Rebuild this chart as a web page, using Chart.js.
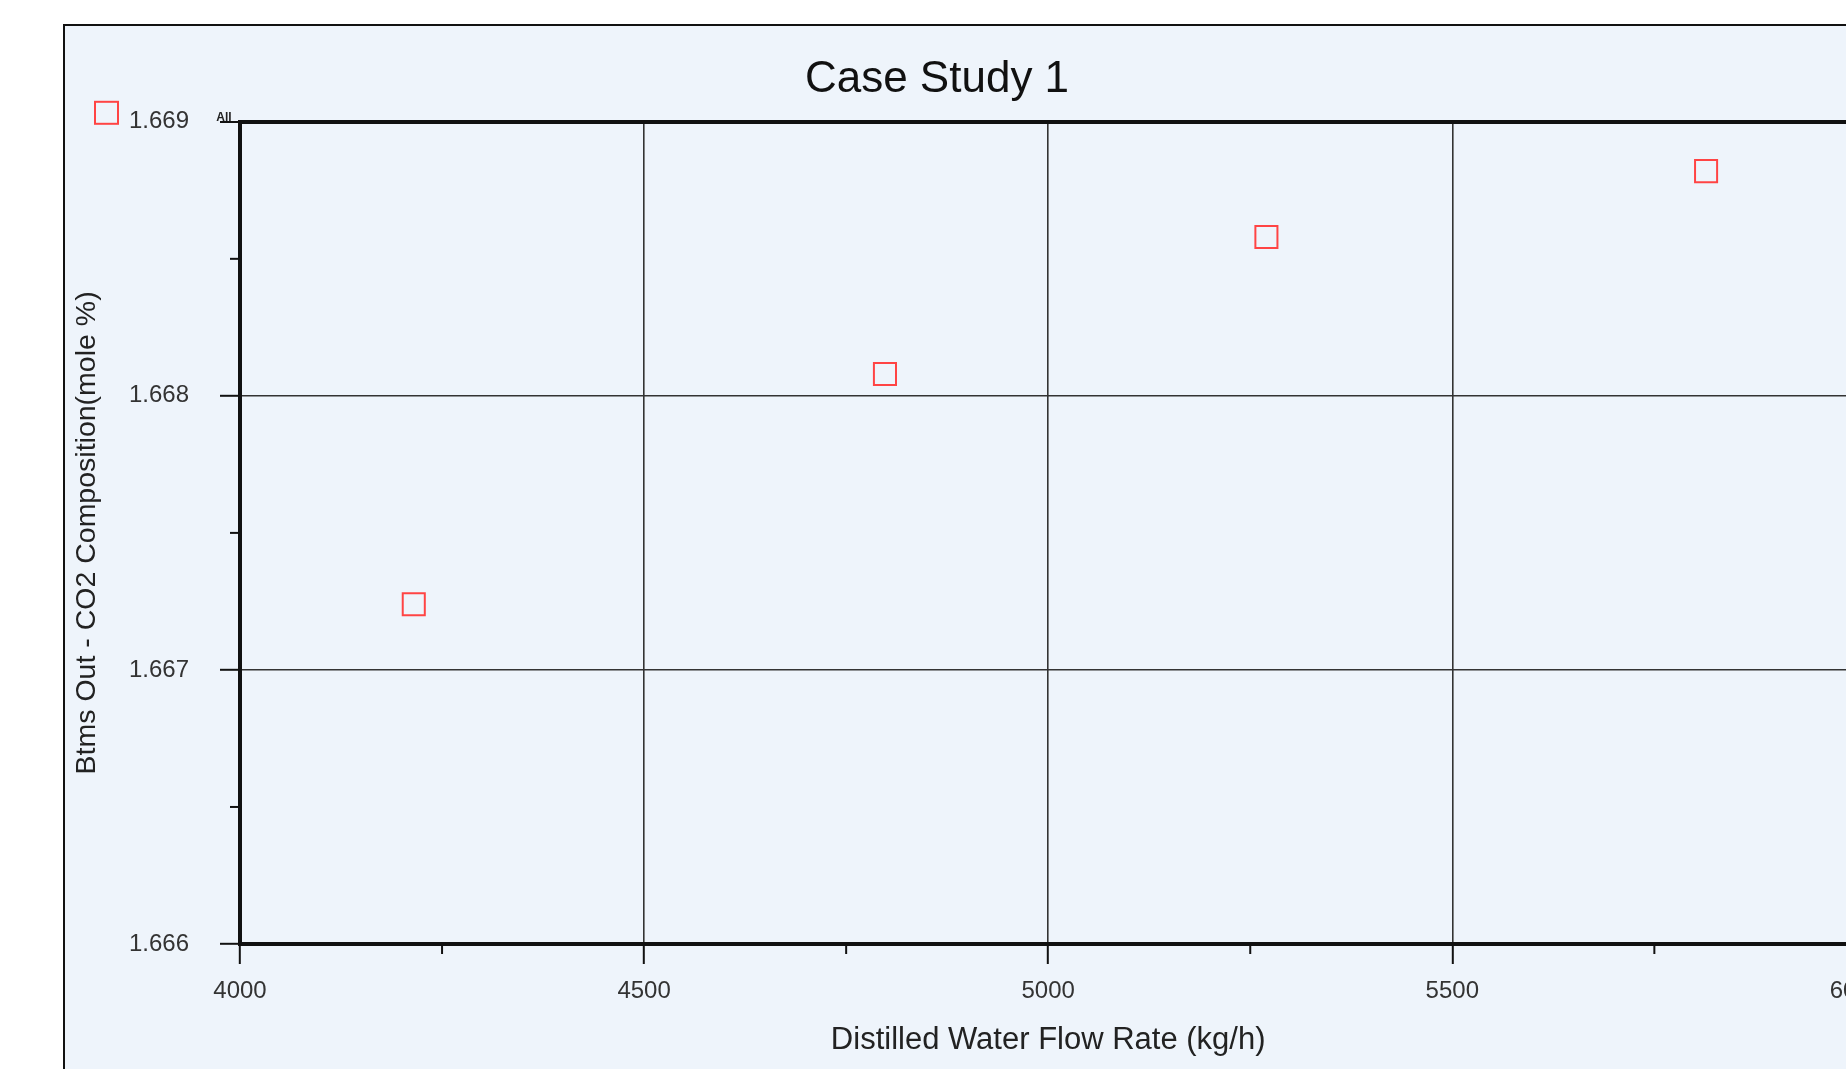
<!DOCTYPE html>
<html>
<head>
<meta charset="utf-8">
<script src="https://cdn.jsdelivr.net/npm/chart.js@4.4.1/dist/chart.umd.min.js"></script>
<style>
  html, body { margin: 0; padding: 0; background: #fff; overflow: hidden; width: 1846px; height: 1069px; }
  #frame { position: absolute; left: 63px; top: 24px; width: 2000px; height: 1200px;
           border: 2px solid #111; background: #eef4fb; }
  #wrap { position: absolute; left: 0; top: 0; width: 1874px; height: 1069px; }
</style>
</head>
<body>
<div id="frame"></div>
<div id="wrap"><canvas id="caseChart"></canvas></div>
<script>
// values
const flowRates = [4215, 4798, 5270, 5814];          // kg/h
const co2Mole = [1.66724, 1.66808, 1.66858, 1.66882]; // mole %
const xTickValues = [4000, 4500, 5000, 5500, 6000];
const xMinorTicks = [4250, 4750, 5250, 5750];
const yTickLabels = ['1.666', '1.667', '1.668', '1.669'];
const yMinorTicks = [1.6665, 1.6675, 1.6685];

const pointRed = '#ff4444';
const font = 'Liberation Sans, Arial, sans-serif';

// minor tick marks, legend box and the little "All" tag
const extrasPlugin = {
    id: 'extras',
    afterDraw(chart) {
        const ctx = chart.ctx;
        const area = chart.chartArea;
        const xs = chart.scales.x, ys = chart.scales.y;
        ctx.save();
        ctx.strokeStyle = '#111';
        ctx.lineWidth = 2;
        xMinorTicks.forEach(v => {
            const px = xs.getPixelForValue(v);
            ctx.beginPath();
            ctx.moveTo(px, area.bottom);
            ctx.lineTo(px, area.bottom + 10);
            ctx.stroke();
        });
        yMinorTicks.forEach(v => {
            const py = ys.getPixelForValue(v);
            ctx.beginPath();
            ctx.moveTo(area.left, py);
            ctx.lineTo(area.left - 10, py);
            ctx.stroke();
        });
        // legend marker
        ctx.strokeStyle = pointRed;
        ctx.lineWidth = 2;
        ctx.strokeRect(area.left - 145, area.top - 20, 23, 22);
        // "All" tag
        ctx.fillStyle = '#222';
        ctx.font = 'bold 12px ' + font;
        ctx.textAlign = 'center';
        ctx.textBaseline = 'middle';
        ctx.fillText('All', area.left - 16, area.top - 4);
        ctx.restore();
    }
};

const ctx = document.getElementById('caseChart').getContext('2d');
const caseChart = new Chart(ctx, {
    type: 'scatter',
    data: {
        datasets: [{
            label: 'All',
            data: flowRates.map((x, i) => ({ x: x, y: co2Mole[i] })),
            pointStyle: 'rect',
            pointRadius: 15.6,
            pointHoverRadius: 15.6,
            borderColor: pointRed,
            borderWidth: 2,
            backgroundColor: 'rgba(0,0,0,0)'
        }]
    },
    options: {
        responsive: true,
        maintainAspectRatio: false,
        animation: false,
        layout: { padding: 0 },
        plugins: {
            legend: { display: false },
            tooltip: { enabled: false },
            title: {
                display: true,
                text: 'Case Study 1',
                color: '#111',
                font: { family: font, size: 44, weight: 'normal' },
                padding: { top: 53, bottom: 16 }
            }
        },
        scales: {
            x: {
                type: 'linear',
                min: 4000,
                max: 6000,
                afterBuildTicks: s => { s.ticks = xTickValues.map(v => ({ value: v })); },
                afterFit: s => { s.height = 125; s.paddingRight = 15; },
                ticks: {
                    color: '#333',
                    font: { family: font, size: 24 },
                    padding: 13,
                    maxRotation: 0,
                    callback: v => String(v)
                },
                grid: {
                    color: '#333',
                    lineWidth: c => (c.tick && c.tick.value === 6000 ? 4 : 1.6),
                    tickLength: 20,
                    tickColor: '#111',
                    tickWidth: 2
                },
                border: { color: '#111', width: 4 },
                title: {
                    display: true,
                    text: 'Distilled Water Flow Rate (kg/h)',
                    color: '#222',
                    font: { family: font, size: 31 },
                    padding: { top: 0, bottom: 10 }
                }
            },
            y: {
                type: 'linear',
                min: 1.666,
                max: 1.669,
                afterBuildTicks: s => { s.ticks = yTickLabels.map(v => ({ value: parseFloat(v) })); },
                afterFit: s => { s.width = 240; },
                ticks: {
                    color: '#333',
                    font: { family: font, size: 24 },
                    padding: 31,
                    callback: v => v.toFixed(3)
                },
                grid: {
                    color: c => (c.tick && Math.abs(c.tick.value - 1.669) < 1e-7 ? '#111' : '#333'),
                    lineWidth: c => (c.tick && Math.abs(c.tick.value - 1.669) < 1e-7 ? 4 : 1.6),
                    tickLength: 20,
                    tickColor: '#111',
                    tickWidth: 2
                },
                border: { color: '#111', width: 4 },
                title: {
                    display: true,
                    text: 'Btms Out - CO2 Composition(mole %)',
                    color: '#222',
                    font: { family: font, size: 28.5 },
                    padding: { top: 70, bottom: 0 }
                }
            }
        }
    },
    plugins: [extrasPlugin]
});
</script>
</body>
</html>
